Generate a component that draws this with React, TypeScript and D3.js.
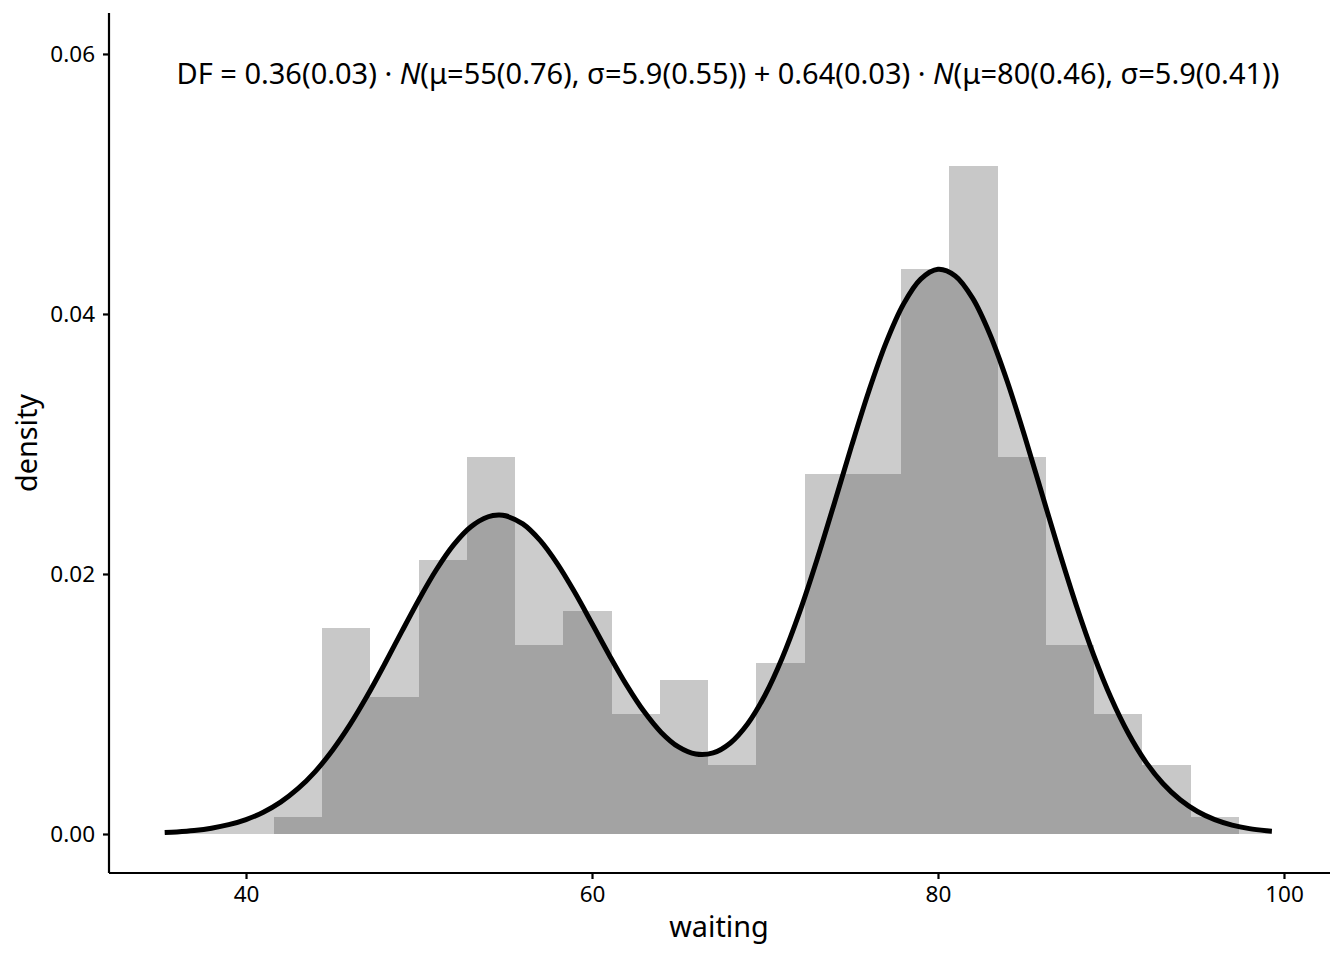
import React, { useEffect, useRef } from 'react';
import * as d3 from 'd3';

// histogram of waiting, 20 bins
const binEdges = [
  41.605, 44.395, 47.184, 49.974, 52.763, 55.553, 58.342, 61.132, 63.921, 66.711,
  69.5, 72.289, 75.079, 77.868, 80.658, 83.447, 86.237, 89.026, 91.816, 94.605, 97.395,
];
const binCounts = [1, 12, 8, 16, 22, 11, 13, 7, 9, 4, 10, 21, 21, 33, 39, 22, 11, 7, 4, 1];

// fitted mixture density
const curveX = [
  35.3, 36, 37, 38, 39, 40, 41, 42, 43, 44, 45, 46, 47, 48, 49, 50, 51, 52, 53, 54, 54.6,
  55, 56, 57, 58, 59, 60, 61, 62, 63, 64, 65, 66, 67, 68, 69, 70, 71, 72, 73, 74, 75, 76,
  77, 78, 79, 80, 81, 82, 83, 84, 85, 86, 87, 88, 89, 90, 91, 92, 93, 94, 95, 96, 97, 98,
  99, 99.3,
];
const curveY = [
  0.00011, 0.000162, 0.000274, 0.000449, 0.000718, 0.001112, 0.001675, 0.00245, 0.003481,
  0.004803, 0.00644, 0.008387, 0.010609, 0.013038, 0.015562, 0.018044, 0.020325, 0.022239,
  0.023635, 0.024402, 0.024534, 0.024478, 0.023852, 0.022582, 0.020777, 0.018589, 0.01619,
  0.013756, 0.011454, 0.009435, 0.007814, 0.006693, 0.006147, 0.006234, 0.007, 0.008476,
  0.010671, 0.013554, 0.017063, 0.021077, 0.02541, 0.029835, 0.03406, 0.037794, 0.040746,
  0.042678, 0.043432, 0.042922, 0.041214, 0.03844, 0.034827, 0.030652, 0.026205, 0.021764,
  0.017559, 0.013759, 0.010475, 0.007744, 0.005563, 0.003881, 0.002631, 0.001733, 0.001108,
  0.000688, 0.000415, 0.000243, 0.000206,
];

const xTicks = [40, 60, 80, 100];
const yTicks = [0, 0.02, 0.04, 0.06];

const FONT = '"Noto Sans", "Open Sans", sans-serif';

const Chart = () => {
  const svgRef = useRef<SVGSVGElement | null>(null);

  useEffect(() => {
    const svg = d3.select(svgRef.current);
    svg.selectAll('*').remove();

    const total = d3.sum(binCounts);
    const bins = binCounts.map((c, i) => ({
      x0: binEdges[i],
      x1: binEdges[i + 1],
      density: c / (total * (binEdges[i + 1] - binEdges[i])),
    }));
    const pts = curveX.map((x, i) => ({ x, y: curveY[i] }));

    const x = d3.scaleLinear().domain([32.08, 102.66]).range([109, 1330]);
    const y = d3.scaleLinear().domain([-0.003, 0.06315]).range([873, 13]);

    const g = svg.append('g');

    g.selectAll('rect.bar')
      .data(bins)
      .enter()
      .append('rect')
      .attr('class', 'bar')
      .attr('x', d => x(d.x0))
      .attr('width', d => x(d.x1) - x(d.x0))
      .attr('y', d => y(d.density))
      .attr('height', d => y(0) - y(d.density))
      .attr('fill', '#c8c8c8')
      .attr('shape-rendering', 'crispEdges');

    const area = d3.area<{ x: number; y: number }>()
      .x(d => x(d.x))
      .y0(y(0))
      .y1(d => y(d.y))
      .curve(d3.curveCatmullRom);

    const line = d3.line<{ x: number; y: number }>()
      .x(d => x(d.x))
      .y(d => y(d.y))
      .curve(d3.curveCatmullRom);

    g.append('path')
      .datum(pts)
      .attr('fill', 'rgb(55,55,55)')
      .attr('fill-opacity', 0.2545)
      .attr('d', area);

    g.append('path')
      .datum(pts)
      .attr('fill', 'none')
      .attr('stroke', '#000')
      .attr('stroke-width', 5)
      .attr('stroke-linecap', 'butt')
      .attr('d', line);

    // axes
    const xAxis = svg.append('g').attr('transform', 'translate(0,873)');
    xAxis.call(d3.axisBottom(x).tickValues(xTicks).tickSize(6).tickPadding(7).tickFormat(d3.format('d')));
    const yAxis = svg.append('g').attr('transform', 'translate(109,0)');
    yAxis.call(d3.axisLeft(y).tickValues(yTicks).tickSize(6).tickPadding(8).tickFormat(d3.format('.2f')));

    [xAxis, yAxis].forEach(a => {
      a.select('.domain').attr('stroke', '#000').attr('stroke-width', 2.2);
      a.selectAll('.tick line').attr('stroke', '#000').attr('stroke-width', 2.2);
      a.selectAll('.tick text')
        .attr('fill', '#000')
        .style('font-family', FONT)
        .style('font-size', '22.5px');
    });
    xAxis.select('.domain').attr('d', 'M109,0H1330');
    yAxis.select('.domain').attr('d', 'M0,13V873');

    svg.append('text')
      .attr('x', 719)
      .attr('y', 937)
      .attr('text-anchor', 'middle')
      .style('font-family', FONT)
      .style('font-size', '28.8px')
      .text('waiting');

    svg.append('text')
      .attr('transform', 'translate(37,443) rotate(-90)')
      .attr('text-anchor', 'middle')
      .style('font-family', FONT)
      .style('font-size', '28.8px')
      .text('density');

    // model annotation
    const label = svg.append('text')
      .attr('x', 728)
      .attr('y', 84)
      .attr('text-anchor', 'middle')
      .style('font-family', FONT)
      .style('font-size', '29px');
    label.append('tspan').text('DF = 0.36(0.03) · ');
    label.append('tspan').style('font-style', 'italic').text('N');
    label.append('tspan').text('(μ=55(0.76), σ=5.9(0.55)) + 0.64(0.03) · ');
    label.append('tspan').style('font-style', 'italic').text('N');
    label.append('tspan').text('(μ=80(0.46), σ=5.9(0.41))');
  }, []);

  return <svg ref={svgRef} width={1344} height={960} style={{ display: 'block' }}></svg>;
};

const App = () => (
  <div style={{ position: 'absolute', left: 0, top: 0, background: '#fff' }}>
    <Chart />
  </div>
);

export default App;
